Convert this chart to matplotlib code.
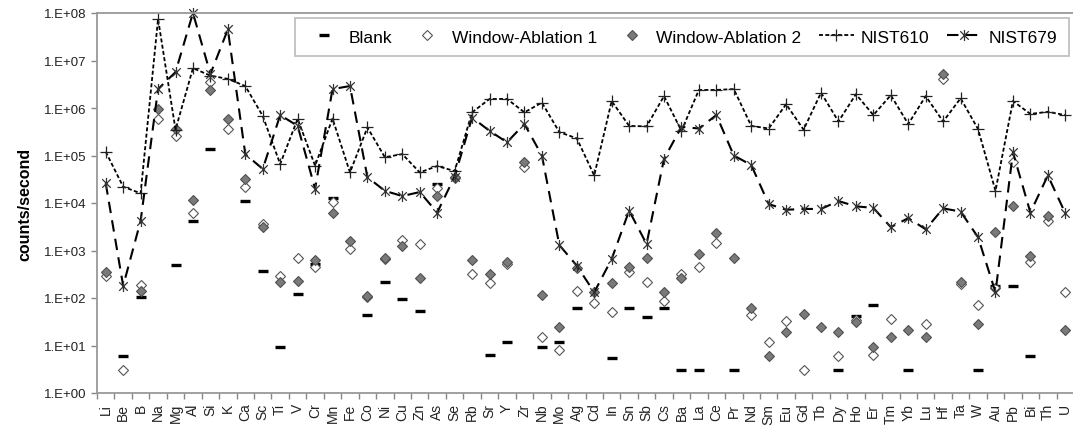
import numpy as np
import matplotlib
matplotlib.use("Agg")
import matplotlib.pyplot as plt
from matplotlib.path import Path

plt.rcParams['font.family'] = ['Liberation Sans', 'DejaVu Sans']

nan = np.nan

elements = ["Li", "Be", "B", "Na", "Mg", "Al", "Si", "K", "Ca", "Sc",
            "Ti", "V", "Cr", "Mn", "Fe", "Co", "Ni", "Cu", "Zn", "As",
            "Se", "Rb", "Sr", "Y", "Zr", "Nb", "Mo", "Ag", "Cd", "In",
            "Sn", "Sb", "Cs", "Ba", "La", "Ce", "Pr", "Nd", "Sm", "Eu",
            "Gd", "Tb", "Dy", "Ho", "Er", "Tm", "Yb", "Lu", "Hf", "Ta",
            "W", "Au", "Pb", "Bi", "Th", "U"]

blank = [nan, 6.1, 103, nan, 495, 4.2e3, 1.37e5, nan, 1.1e4, 375,
         9.4, 121, 520, 1.3e4, nan, 44, 220, 95, 54, 2.5e4,
         nan, nan, 6.3, 12, nan, 9.4, 12, 61, nan, 5.4,
         62, 39, 62, 3.1, 3.1, nan, 3.1, nan, nan, nan,
         nan, nan, 3.1, 42, 71, nan, 3.1, nan, nan, nan,
         3.1, 177, 177, 6.1, nan, nan]

window_ablation_1 = [295, 3.1, 188, 5.8e5, 2.6e5, 6.3e3, 3.6e6, 3.7e5, 2.2e4, 3.6e3,
                     295, 695, 445, 1.03e4, 1.1e3, 105, 660, 1.7e3, 1.37e3, 2.1e4,
                     3.4e4, 320, 205, 530, 5.6e4, 15.4, 8.2, 138, 78, 50,
                     347, 220, 88, 320, 445, 1.44e3, nan, 44, 12, 33,
                     3.1, nan, 6.1, 35, 6.3, 36, nan, 28, 4.0e6, 200,
                     71, 160, 7.2e4, 580, 4.2e3, 135]

window_ablation_2 = [355, nan, 142, 9.5e5, 3.6e5, 1.17e4, 2.4e6, 6.0e5, 3.2e4, 3.2e3,
                     220, 225, 640, 6.1e3, 1.56e3, 112, 690, 1.23e3, 260, 1.4e4,
                     3.5e4, 640, 320, 560, 7.4e4, 115, 24, 430, 135, 208,
                     445, 690, 135, 260, 845, 2.34e3, 690, 63, 6.1, 19,
                     46, 24, 19, 32, 9.4, 15, 21, 15, 5.2e6, 215,
                     28, 2.5e3, 8.8e3, 780, 5.4e3, 21]

nist610 = [1.2e5, 2.2e4, 1.6e4, 7.5e7, 3.5e5, 6.9e6, 4.8e6, 4.1e6, 2.9e6, 6.8e5,
           6.6e4, 5.9e5, 6.1e4, 6.0e5, 4.4e4, 3.9e5, 9.2e4, 1.07e5, 4.4e4, 6.0e4,
           4.7e4, 8.1e5, 1.55e6, 1.55e6, 8.1e5, 1.3e6, 3.1e5, 2.3e5, 3.8e4, 1.4e6,
           4.2e5, 4.1e5, 1.78e6, 3.3e5, 2.4e6, 2.4e6, 2.5e6, 4.2e5, 3.7e5, 1.2e6,
           3.5e5, 2.1e6, 5.2e5, 1.95e6, 7.1e5, 1.86e6, 4.6e5, 1.78e6, 5.2e5, 1.6e6,
           3.6e5, 1.8e4, 1.4e6, 7.5e5, 8.3e5, 7.1e5]

nist679 = [2.6e4, 180, 4.2e3, 2.5e6, 5.7e6, 1.0e8, 5.2e6, 4.5e7, 1.07e5, 5.2e4,
           7.1e5, 4.2e5, 2.0e4, 2.5e6, 2.9e6, 3.5e4, 1.8e4, 1.4e4, 1.7e4, 6.3e3,
           3.6e4, 6.3e5, 3.3e5, 1.9e5, 4.6e5, 1.0e5, 1.3e3, 480, 132, 660,
           6.9e3, 1.37e3, 8.5e4, 4.0e5, 3.7e5, 7.1e5, 1.0e5, 6.3e4, 9.5e3, 7.2e3,
           7.5e3, 7.5e3, 1.1e4, 8.5e3, 7.9e3, 3.1e3, 4.8e3, 2.8e3, 7.7e3, 6.6e3,
           1.9e3, 132, 1.17e5, 6.3e3, 3.8e4, 6.1e3]

x = np.arange(len(elements))

# star marker: an X with a vertical bar through it
star = Path([(-1, -1), (1, 1), (-1, 1), (1, -1), (0, -1.3), (0, 1.3)],
            [Path.MOVETO, Path.LINETO, Path.MOVETO, Path.LINETO,
             Path.MOVETO, Path.LINETO])

fig = plt.figure(figsize=(10.73, 4.27), dpi=100)
ax = fig.add_axes([97 / 1073, 33 / 427, 977 / 1073, 380 / 427])

ax.plot(x, blank, linestyle='none', marker='_', ms=7, mew=2.4,
        color='black', label='Blank')
ax.plot(x, window_ablation_1, linestyle='none', marker='D', ms=4.8, mew=0.8,
        mfc='white', mec='#555555', label='Window-Ablation 1')
ax.plot(x, window_ablation_2, linestyle='none', marker='D', ms=4.8, mew=0.8,
        mfc='#7a7a7a', mec='#505050', label='Window-Ablation 2')
ax.plot(x, nist610, color='black', lw=1.3, dashes=(2.2, 1.3),
        marker='+', ms=8, mew=0.9, mec='#222222', label='NIST610', clip_on=False)
ax.plot(x, nist679, color='black', lw=1.5, dashes=(5.5, 3.5),
        marker=star, ms=8, mew=0.9, mec='#333333', label='NIST679', clip_on=False)

ax.set_yscale('log')
ax.set_ylim(1, 1e8)
ax.set_xlim(-0.5, len(elements) - 0.5)

decades = [10.0 ** k for k in range(9)]
ax.set_yticks(decades)
ax.set_yticklabels([f"1.E+{k:02d}" for k in range(9)])
ax.yaxis.set_minor_locator(matplotlib.ticker.NullLocator())
ax.tick_params(axis='y', labelsize=9.5, labelcolor='#222222', color='#888888',
               length=4, width=1)

ax.set_xticks(x)
ax.set_xticklabels(elements, rotation=90)
ax.set_xticks(np.arange(len(elements) + 1) - 0.5, minor=True)
ax.tick_params(axis='x', which='major', length=0, pad=7, labelsize=10,
               labelcolor='#222222')
ax.tick_params(axis='x', which='minor', length=4, width=1, color='#888888')

for side in ['left', 'bottom', 'top']:
    ax.spines[side].set_color('#999999')
    ax.spines[side].set_linewidth(1.3)
ax.spines['right'].set_visible(False)

ax.set_ylabel('counts/second', fontsize=11.5, fontweight='bold', labelpad=8)

leg = ax.legend(loc='lower left', bbox_to_anchor=(0.203, 0.886, 0.792, 0.1027),
                mode='expand', ncol=5, numpoints=1, fontsize=12.5,
                frameon=True, fancybox=False, borderaxespad=0,
                handlelength=2.0, handletextpad=0.4, borderpad=0.68)
leg.get_frame().set_edgecolor('#aaaaaa')
leg.get_frame().set_linewidth(1.2)

fig.savefig('out.png', dpi=100)
